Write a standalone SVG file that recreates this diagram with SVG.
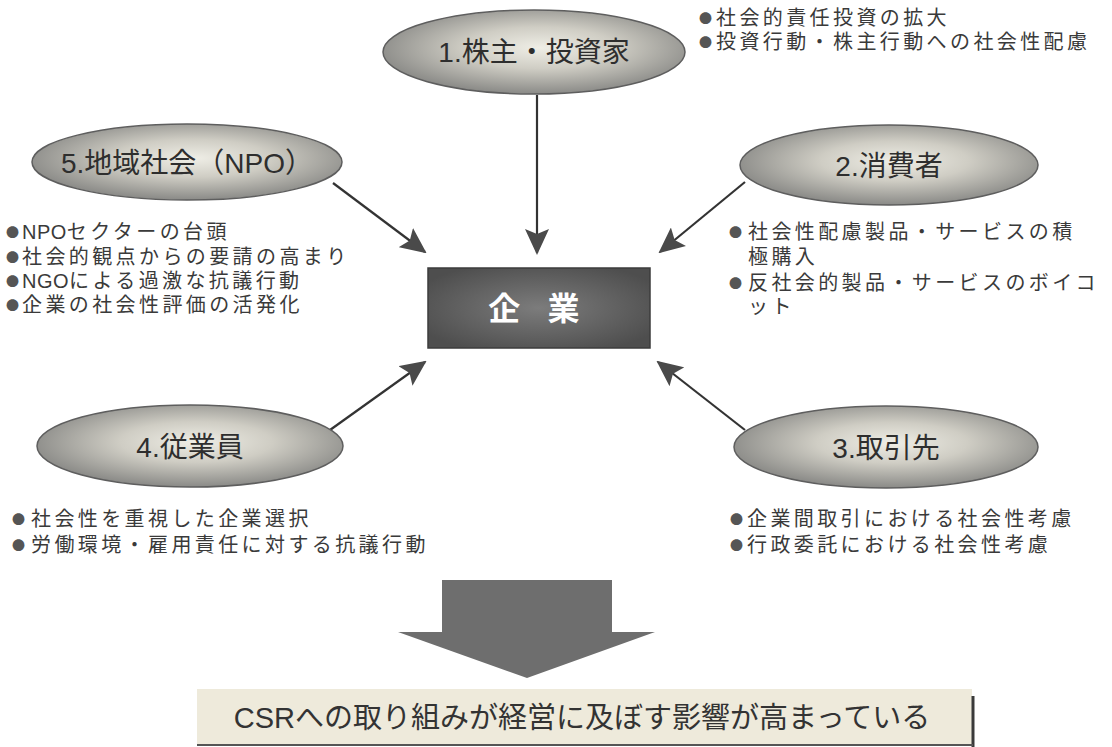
<svg xmlns="http://www.w3.org/2000/svg" width="1112" height="747" viewBox="0 0 1112 747">
<style>
.lbl{font-family:"Liberation Sans","Noto Sans CJK JP",sans-serif;font-size:28px;fill:#2e2e2e;text-anchor:middle}
.blt{font-family:"Liberation Sans","Noto Sans CJK JP",sans-serif;font-size:20px;fill:#3a3a3a;letter-spacing:3.4px}
.dot{font-family:"Noto Sans CJK JP",sans-serif;font-size:13px;letter-spacing:0;fill:#555}
.lat{letter-spacing:0.5px}
.ell{fill:url(#eg);stroke:#5e5e5e;stroke-width:1.5}
.con{stroke:#333;stroke-width:2.2;fill:none;marker-end:url(#ah)}
</style>
<defs>
<radialGradient id="eg" cx="52%" cy="45%" r="55%">
<stop offset="0" stop-color="#efeee6"/>
<stop offset="0.45" stop-color="#cfcdc4"/>
<stop offset="1" stop-color="#8a8a87"/>
</radialGradient>
<radialGradient id="bg" cx="50%" cy="50%" r="60%">
<stop offset="0" stop-color="#7c7c7c"/>
<stop offset="1" stop-color="#4e4e4e"/>
</radialGradient>
<marker id="ah" viewBox="0 0 26 24" refX="24" refY="12" markerWidth="26" markerHeight="24" markerUnits="userSpaceOnUse" orient="auto">
<path d="M0,0 L26,12 L0,24 L5,12 z" fill="#4a4a4a"/>
</marker>
</defs>
<rect width="1112" height="747" fill="#ffffff"/>

<g id="connectors">
<line class="con" x1="537" y1="95" x2="537" y2="253"/>
<line class="con" x1="333" y1="183" x2="425" y2="252"/>
<line class="con" x1="745" y1="182" x2="660" y2="252"/>
<line class="con" x1="330" y1="430" x2="425" y2="362"/>
<line class="con" x1="745" y1="430" x2="658" y2="362"/>
</g>

<g id="n1">
<ellipse class="ell" cx="534" cy="52" rx="151" ry="42"/>
<text class="lbl" x="534" y="62">1.株主・投資家</text>
<text class="blt" x="699" y="25"><tspan class="dot" dy="-2">●</tspan><tspan x="716" dy="2">社会的責任投資の拡大</tspan></text>
<text class="blt" x="699" y="49"><tspan class="dot" dy="-2">●</tspan><tspan x="716" dy="2">投資行動・株主行動への社会性配慮</tspan></text>
</g>

<g id="n5">
<ellipse class="ell" cx="187" cy="162" rx="155" ry="38"/>
<text class="lbl" x="187" y="173">5.地域社会（NPO）</text>
<text class="blt" x="6" y="239"><tspan class="dot" dy="-2">●</tspan><tspan x="22" dy="2"><tspan class="lat">NPO</tspan>セクターの台頭</tspan></text>
<text class="blt" x="6" y="264"><tspan class="dot" dy="-2">●</tspan><tspan x="22" dy="2">社会的観点からの要請の高まり</tspan></text>
<text class="blt" x="6" y="288"><tspan class="dot" dy="-2">●</tspan><tspan x="22" dy="2"><tspan class="lat">NGO</tspan>による過激な抗議行動</tspan></text>
<text class="blt" x="6" y="312"><tspan class="dot" dy="-2">●</tspan><tspan x="22" dy="2">企業の社会性評価の活発化</tspan></text>
</g>

<g id="n2">
<ellipse class="ell" cx="889" cy="165" rx="149" ry="40"/>
<text class="lbl" x="889" y="176">2.消費者</text>
<text class="blt" x="729" y="239"><tspan class="dot" dy="-2">●</tspan><tspan x="748" dy="2">社会性配慮製品・サービスの積</tspan></text>
<text class="blt" x="748" y="264">極購入</text>
<text class="blt" x="729" y="290"><tspan class="dot" dy="-2">●</tspan><tspan x="748" dy="2">反社会的製品・サービスのボイコ</tspan></text>
<text class="blt" x="748" y="314">ット</text>
</g>

<g id="n4">
<ellipse class="ell" cx="190" cy="446" rx="153" ry="41"/>
<text class="lbl" x="190" y="457">4.従業員</text>
<text class="blt" x="12" y="526"><tspan class="dot" dy="-2">●</tspan><tspan x="31" dy="2">社会性を重視した企業選択</tspan></text>
<text class="blt" x="12" y="552"><tspan class="dot" dy="-2">●</tspan><tspan x="31" dy="2">労働環境・雇用責任に対する抗議行動</tspan></text>
</g>

<g id="n3">
<ellipse class="ell" cx="886" cy="447" rx="152" ry="41"/>
<text class="lbl" x="886" y="458">3.取引先</text>
<text class="blt" x="730" y="526"><tspan class="dot" dy="-2">●</tspan><tspan x="747" dy="2">企業間取引における社会性考慮</tspan></text>
<text class="blt" x="730" y="552"><tspan class="dot" dy="-2">●</tspan><tspan x="747" dy="2">行政委託における社会性考慮</tspan></text>
</g>

<g id="center">
<rect x="428" y="268" width="222" height="80" fill="url(#bg)" stroke="#3c3c3c" stroke-width="1.5"/>
<text x="539" y="320" font-family="Noto Sans CJK JP, sans-serif" font-size="32" font-weight="bold" fill="#ffffff" text-anchor="middle" letter-spacing="10">企 業</text>
</g>

<g id="result-arrow">
<polygon points="442,580 612,580 612,632 655,632 527,678 398,632 442,632" fill="#6e6e6e"/>
</g>

<g id="result">
<rect x="197" y="689" width="775" height="56" fill="#eeeadb"/>
<line x1="973" y1="696" x2="973" y2="747" stroke="#3a3a3a" stroke-width="3"/>
<line x1="197" y1="745" x2="973" y2="745" stroke="#555" stroke-width="2"/>
<text x="582" y="728" font-family="Liberation Sans, Noto Sans CJK JP, sans-serif" font-size="29" fill="#333" text-anchor="middle">CSRへの取り組みが経営に及ぼす影響が高まっている</text>
</g>
</svg>
